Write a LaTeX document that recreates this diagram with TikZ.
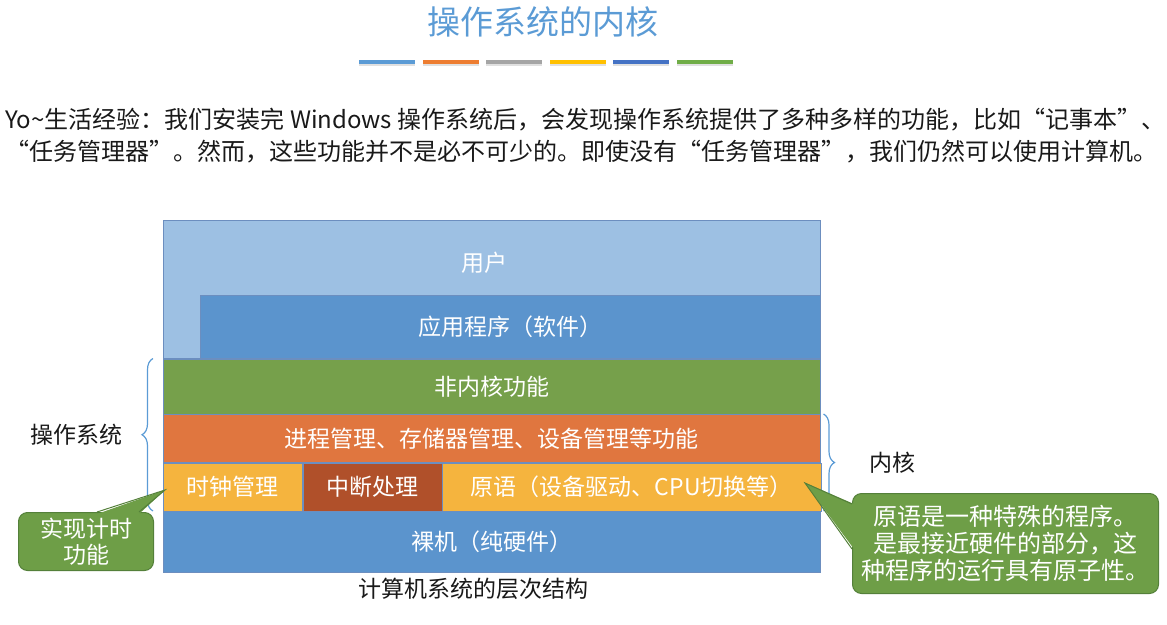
\documentclass[tikz,border=0pt]{standalone}
\usepackage{fontspec}
\setmainfont{Noto Sans CJK SC}
\usetikzlibrary{positioning, calc, decorations.pathreplacing}
\definecolor{ttlblue}{HTML}{5B9BD5}
\definecolor{barA}{HTML}{5B9BD5}
\definecolor{barB}{HTML}{ED7D31}
\definecolor{barC}{HTML}{A5A5A5}
\definecolor{barD}{HTML}{FFC000}
\definecolor{barE}{HTML}{4472C4}
\definecolor{barF}{HTML}{70AD47}
\definecolor{usrblue}{HTML}{9DC0E3}
\definecolor{appblue}{HTML}{5B94CD}
\definecolor{lyrline}{HTML}{6C8EBF}
\definecolor{kgreen}{HTML}{76A04B}
\definecolor{korange}{HTML}{E0763F}
\definecolor{kyellow}{HTML}{F5B43E}
\definecolor{kbrown}{HTML}{B0502A}
\definecolor{notegreen}{HTML}{6E9E47}
\definecolor{noteline}{HTML}{54803A}
\tikzset{
  lyr/.style  = {draw=lyrline, line width=0.5pt, anchor=north west, inner sep=0pt,
                 text=white, font=\fontsize{23}{26}\selectfont},
  lbl/.style  = {inner sep=0pt, text=white, font=\fontsize{23}{26}\selectfont},
  brc/.style  = {decorate, decoration={brace, amplitude=11pt}, draw=ttlblue,
                 line width=1.2pt},
  note/.style = {draw=noteline, fill=notegreen, rounded corners=9pt, line width=1pt,
                 text=white, align=center, inner sep=0pt, anchor=north west},
  side/.style = {font=\fontsize{23}{26}\selectfont, text=black!90},
  body/.style = {font=\fontsize{24}{28}\selectfont, text=black!90, anchor=west,
                 inner sep=0pt},
}

\begin{document}
\begin{tikzpicture}[x=1pt, y=-1pt]
  \useasboundingbox (0,0) rectangle (1167,624);
  % title and coloured bars
  \node[font=\fontsize{33}{36}\selectfont, text=ttlblue] (title) at (543,22) {操作系统的内核};
  \foreach \c [count=\i from 0] in {barA, barB, barC, barD, barE, barF} {
    \fill[black!12] ({359+\i*63.6},61.5) rectangle ++(56,4);
    \fill[\c] ({359+\i*63.6},60) rectangle ++(56,4);
  }
  % text
  \node[body] (line1) at (5,120) {Yo\textasciitilde 生活经验：我们安装完 Windows 操作系统后，会发现操作系统提供了多种多样的功能，比如“记事本”、};
  \node[body] (line2) at (5,152) {“任务管理器”。然而，这些功能并不是必不可少的。即使没有“任务管理器”，我们仍然可以使用计算机。};

  % layers
  \node[lyr, fill=usrblue, minimum width=657pt, minimum height=138pt] (user) at (163,220) {};
  \node[lbl] (userlbl) at ($(user.north)+(-7,43)$) {用户};
  \node[lyr, fill=appblue, minimum width=620pt, minimum height=63pt, anchor=south east] (app) at (user.south east) {应用程序（软件）};
  \node[lyr, fill=kgreen, minimum width=657pt, minimum height=55pt] (nonkernel) at (user.south west) {非内核功能};
  \node[lyr, fill=korange, minimum width=657pt, minimum height=48pt] (mgmt) at (nonkernel.south west) {进程管理、存储器管理、设备管理等功能};
  \node[lyr, fill=kyellow, minimum width=139pt, minimum height=48pt] (clock) at (mgmt.south west) {时钟管理};
  \node[lyr, fill=kbrown, minimum width=139pt, minimum height=48pt, right=0pt of clock.north east, anchor=north west] (intr) {中断处理};
  \node[lyr, fill=kyellow, minimum width=379pt, minimum height=48pt, right=0pt of intr.north east, anchor=north west] (prim) {原语（设备驱动、CPU切换等）};
  \node[lyr, fill=appblue, minimum width=657pt, minimum height=61pt] (bare) at (clock.south west) {裸机（纯硬件）};
  \node[side] (caption) at (473,589) {计算机系统的层次结构};

  % braces
  \draw[brc] ([xshift=-10pt]bare.north west) -- ([xshift=-10pt]nonkernel.north west)
    node[side, midway, left=27pt] (oslbl) {操作系统};
  \draw[brc] ([xshift=3pt]mgmt.north east) -- ([xshift=3pt]bare.north east)
    node[side, midway, right=42pt] (kernlbl) {内核};

  % callouts
  \node[note, minimum width=135pt, minimum height=58pt, font=\fontsize{23}{26}\selectfont] (timenote) at (18,512) {实现计时\\功能};
  \coordinate (timetip) at (165,490);
  \fill[notegreen] ($(timenote.north west)+(79,2)$) -- (timetip) -- ($(timenote.north west)+(121,2)$) -- cycle;
  \draw[noteline, line width=1pt] ($(timenote.north west)+(79,0)$) -- (timetip) -- ($(timenote.north west)+(121,0)$);

  \node[note, minimum width=306pt, minimum height=100pt, font=\fontsize{24}{27}\selectfont] (primnote) at (852,493) {原语是一种特殊的程序。\\是最接近硬件的部分，这\\种程序的运行具有原子性。};
  \coordinate (primtip) at (805,483);
  \fill[notegreen] ($(primnote.north west)+(2,11)$) -- (primtip) -- ($(primnote.north west)+(2,56)$) -- cycle;
  \draw[noteline, line width=1pt] ($(primnote.north west)+(0,11)$) -- (primtip) -- ($(primnote.north west)+(0,56)$);
\end{tikzpicture}
\end{document}
